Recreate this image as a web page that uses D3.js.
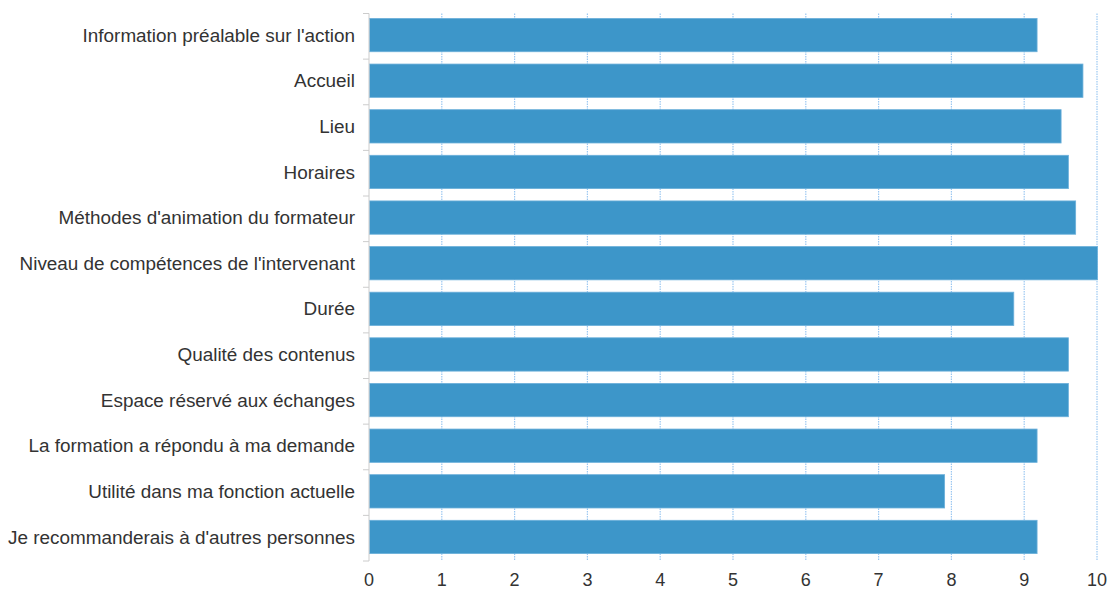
<!DOCTYPE html>
<html>
<head>
<meta charset="utf-8">
<script src="https://cdn.jsdelivr.net/npm/d3@7"></script>
<style>
  body { margin: 0; background: #fff; }
  text { font-family: "Liberation Sans", Arial, sans-serif; }
</style>
</head>
<body>
<div id="chart"></div>
<script>
// categories and scores (out of 10)
var categories = [
  "Information préalable sur l'action",
  "Accueil",
  "Lieu",
  "Horaires",
  "Méthodes d'animation du formateur",
  "Niveau de compétences de l'intervenant",
  "Durée",
  "Qualité des contenus",
  "Espace réservé aux échanges",
  "La formation a répondu à ma demande",
  "Utilité dans ma fonction actuelle",
  "Je recommanderais à d'autres personnes"
];
var scores = [9.17, 9.8, 9.5, 9.6, 9.7, 10, 8.85, 9.6, 9.6, 9.17, 7.9, 9.17];
var xTicks = [0, 1, 2, 3, 4, 5, 6, 7, 8, 9, 10];

var width = 1111, height = 592;
var margin = { top: 13.5, right: 14, bottom: 31, left: 369 };

var data = categories.map(function(c, i) { return { name: c, value: scores[i] }; });

var svg = d3.select("#chart").append("svg")
  .attr("width", width)
  .attr("height", height);

var x = d3.scaleLinear()
  .domain([0, 10])
  .range([margin.left, 1097]);

var y = d3.scaleBand()
  .domain(categories)
  .range([margin.top, height - margin.bottom])
  .paddingInner(0.27)
  .paddingOuter(0.135)
  .align(0.4);

// dotted grid lines
svg.append("g")
  .selectAll("line")
  .data(xTicks.slice(1))
  .enter()
  .append("line")
  .attr("x1", function(d) { return x(d); })
  .attr("x2", function(d) { return x(d); })
  .attr("y1", margin.top)
  .attr("y2", height - margin.bottom)
  .attr("stroke", "#9cc8f2")
  .attr("stroke-width", 1.2)
  .attr("stroke-dasharray", "1.5,1");

// bars
svg.append("g")
  .selectAll("rect")
  .data(data)
  .enter()
  .append("rect")
  .attr("x", x(0) + 0.5)
  .attr("y", function(d) { return y(d.name); })
  .attr("width", function(d) { return x(d.value) - x(0); })
  .attr("height", y.bandwidth())
  .attr("fill", "#3d96c9")
  .attr("stroke", "#6cb0da")
  .attr("stroke-width", 0.8);

// y axis with ticks at band boundaries
var yAxis = svg.append("g");
yAxis.append("line")
  .attr("x1", x(0)).attr("x2", x(0))
  .attr("y1", margin.top).attr("y2", height - margin.bottom)
  .attr("stroke", "#cccccc");
var bounds = d3.range(categories.length + 1).map(function(i) {
  return margin.top + i * y.step();
});
yAxis.selectAll(".bt")
  .data(bounds)
  .enter()
  .append("line")
  .attr("x1", x(0) - 6).attr("x2", x(0))
  .attr("y1", function(d) { return d; })
  .attr("y2", function(d) { return d; })
  .attr("stroke", "#cccccc");

yAxis.selectAll("text")
  .data(categories)
  .enter()
  .append("text")
  .attr("x", x(0) - 14)
  .attr("y", function(d) { return y(d) + y.bandwidth() / 2; })
  .attr("dy", "0.35em")
  .attr("text-anchor", "end")
  .attr("font-size", "18.9px")
  .attr("fill", "#333")
  .text(function(d) { return d; });

// x tick labels
svg.append("g")
  .selectAll("text")
  .data(xTicks)
  .enter()
  .append("text")
  .attr("x", function(d) { return x(d); })
  .attr("y", 580)
  .attr("dy", "0.35em")
  .attr("text-anchor", "middle")
  .attr("font-size", "18px")
  .attr("fill", "#333")
  .text(function(d) { return d; });
</script>
</body>
</html>
